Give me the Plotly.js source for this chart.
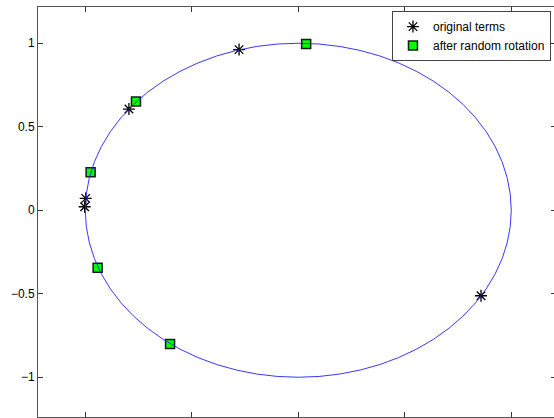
<!DOCTYPE html>
<html><head><meta charset="utf-8">
<script src="https://cdn.plot.ly/plotly-3.0.1.min.js"></script>
<style>html,body{margin:0;padding:0;overflow:hidden;background:#fff}</style>
</head><body><div id="chart"></div>
<script>
// Data
const originalX = [-0.278, -0.795, -0.998, -1.003, 0.858];
const originalY = [0.962, 0.606, 0.071, 0.021, -0.512];
const rotatedX = [0.037, -0.762, -0.975, -0.942, -0.602];
const rotatedY = [0.996, 0.651, 0.227, -0.344, -0.801];
const circleCenter = [0, 0];
const circleRadius = 1;
const seriesNames = ['original terms', 'after random rotation'];
const xTickVals = [-1, -0.5, 0, 0.5, 1];
const yTickVals = [-1, -0.5, 0, 0.5, 1];
const yTickText = ['\u22121', '\u22120.5', '0', '0.5', '1'];

const FONT = 'Liberation Sans, Arial, Helvetica, sans-serif';

const traces = [
  {
    type: 'scatter', mode: 'markers', name: seriesNames[0],
    x: originalX, y: originalY,
    marker: {symbol: 'asterisk-open', size: 10, color: '#000', line: {color: '#000', width: 1.3}},
    hoverinfo: 'skip'
  },
  {
    type: 'scatter', mode: 'markers', name: seriesNames[1],
    x: rotatedX, y: rotatedY,
    marker: {symbol: 'square', size: 9, color: '#00ff00', line: {color: '#1a1a1a', width: 1.5}},
    hoverinfo: 'skip'
  }
];

const axisCommon = {
  showgrid: false, zeroline: false, showline: true, linecolor: '#555', linewidth: 1,
  mirror: 'ticks', ticks: 'inside', ticklen: 5, tickcolor: '#333', tickwidth: 1,
  fixedrange: true
};

const layout = {
  width: 556, height: 418,
  margin: {l: 38, r: 0, t: 7, b: 1},
  paper_bgcolor: '#fff', plot_bgcolor: '#fff',
  font: {family: FONT, size: 12, color: '#000'},
  showlegend: true,
  xaxis: Object.assign({}, axisCommon, {
    range: [-1.222, 1.21], tickmode: 'array', tickvals: xTickVals, showticklabels: false
  }),
  yaxis: Object.assign({}, axisCommon, {
    range: [-1.238, 1.217], tickmode: 'array', tickvals: yTickVals, ticktext: yTickText,
    tickfont: {family: FONT, size: 12, color: '#000'}
  }),
  legend: {
    x: 0.9903, xanchor: 'right', y: 0.990, yanchor: 'top',
    bgcolor: '#fff', bordercolor: '#444', borderwidth: 1,
    font: {family: FONT, size: 12, color: '#000'},
    tracegroupgap: 0
  },
  shapes: [{
    type: 'circle', xref: 'x', yref: 'y', layer: 'above',
    x0: circleCenter[0] - circleRadius, x1: circleCenter[0] + circleRadius,
    y0: circleCenter[1] - circleRadius, y1: circleCenter[1] + circleRadius,
    line: {color: '#2020ff', width: 0.9}
  }]
};

Plotly.newPlot('chart', traces, layout, {displayModeBar: false, staticPlot: true});
</script>
</body></html>
